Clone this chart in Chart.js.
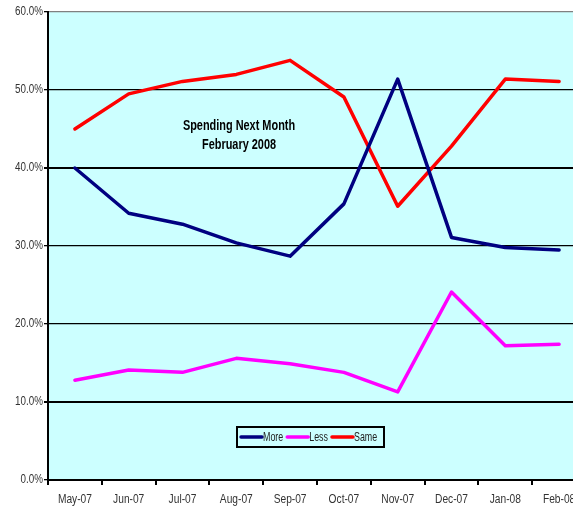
<!DOCTYPE html>
<html>
<head>
<meta charset="utf-8">
<script src="https://cdn.jsdelivr.net/npm/chart.js@4"></script>
<style>
  html, body { margin: 0; padding: 0; background: #fff; overflow: hidden; }
</style>
</head>
<body>
<canvas id="spending-chart" width="590" height="506"></canvas>
<script>
const months = ['May-07', 'Jun-07', 'Jul-07', 'Aug-07', 'Sep-07', 'Oct-07', 'Nov-07', 'Dec-07', 'Jan-08', 'Feb-08'];
const more = [40.0, 34.2, 32.8, 30.4, 28.7, 35.4, 51.4, 31.1, 29.8, 29.5];
const less = [12.8, 14.1, 13.8, 15.6, 14.9, 13.8, 11.3, 24.1, 17.2, 17.4];
const same = [45.0, 49.5, 51.1, 52.0, 53.8, 49.1, 35.1, 42.8, 51.4, 51.1];
const titleLines = ['Spending Next Month', 'February 2008'];

const FONT = '"Liberation Sans", Arial, sans-serif';

// text squeezed horizontally, to mimic the narrow font of the original
function narrowText(ctx, text, x, y, sx, align) {
  ctx.save();
  ctx.translate(x, y);
  ctx.scale(sx, 1);
  ctx.textAlign = align;
  ctx.fillText(text, 0, 0);
  ctx.restore();
}

// cyan plot background
const plotBg = {
  id: 'plotBg',
  beforeDraw(chart) {
    const { ctx, chartArea: a } = chart;
    ctx.save();
    ctx.fillStyle = '#CCFFFF';
    ctx.fillRect(a.left, a.top, a.right - a.left, a.bottom - a.top);
    ctx.restore();
  },
};

// axis labels, title and legend
const overlay = {
  id: 'overlay',
  afterDraw(chart) {
    const ctx = chart.ctx;
    const xs = chart.scales.x, ys = chart.scales.y;
    ctx.save();
    ctx.textBaseline = 'middle';

    // y tick labels
    ctx.fillStyle = '#333';
    ctx.font = '12px ' + FONT;
    ys.ticks.forEach(t => {
      narrowText(ctx, t.value.toFixed(1) + '%', ys.right - 5, ys.getPixelForValue(t.value), 0.82, 'right');
    });

    // x tick labels
    ctx.font = '12px ' + FONT;
    xs.ticks.forEach((t, i) => {
      narrowText(ctx, months[t.value], xs.getPixelForTick(i), xs.top + 20, 0.85, 'center');
    });

    // title
    ctx.fillStyle = '#000';
    ctx.font = 'bold 14px ' + FONT;
    narrowText(ctx, titleLines[0], 239, 126, 0.78, 'center');
    narrowText(ctx, titleLines[1], 239, 145, 0.78, 'center');

    // legend
    const bx = 237, by = 427, bw = 147, bh = 20;
    ctx.lineWidth = 2;
    ctx.strokeStyle = '#000';
    ctx.strokeRect(bx, by, bw, bh);
    ctx.font = '12px ' + FONT;
    ctx.fillStyle = '#222';
    let x = bx + 4;
    const cy = by + bh / 2;
    chart.data.datasets.forEach(ds => {
      ctx.strokeStyle = ds.borderColor;
      ctx.lineWidth = 3.5;
      ctx.lineCap = 'round';
      ctx.beginPath();
      ctx.moveTo(x, cy);
      ctx.lineTo(x + 21, cy);
      ctx.stroke();
      narrowText(ctx, ds.label, x + 22, cy + 1, 0.74, 'left');
      x += 22 + ctx.measureText(ds.label).width * 0.74 + 4;
    });
    ctx.restore();
  },
};

const config = {
  type: 'line',
  data: {
    labels: months,
    datasets: [
      { label: 'More', data: more, borderColor: '#000080', backgroundColor: '#000080' },
      { label: 'Less', data: less, borderColor: '#FF00FF', backgroundColor: '#FF00FF' },
      { label: 'Same', data: same, borderColor: '#FF0000', backgroundColor: '#FF0000' },
    ],
  },
  options: {
    responsive: false,
    animation: false,
    layout: { padding: { top: 12, right: 4, left: 0, bottom: 0 } },
    elements: {
      line: { borderWidth: 3.5, tension: 0, borderCapStyle: 'round', borderJoinStyle: 'round' },
      point: { radius: 0 },
    },
    plugins: {
      legend: { display: false },
      title: { display: false },
      tooltip: { enabled: false },
    },
    scales: {
      x: {
        offset: true,
        grid: { offset: true, drawOnChartArea: false, drawTicks: true, tickLength: 5, color: '#000', lineWidth: 2 },
        border: { color: '#000', width: 2 },
        ticks: { display: false, autoSkip: false },
        afterFit: s => { s.height = 26; },
      },
      y: {
        min: 0,
        max: 60,
        ticks: { display: false, stepSize: 10 },
        grid: {
          color: c => (c.tick && c.tick.value === 60 ? '#808080' : '#000'),
          lineWidth: c => (c.tick && (c.tick.value === 40 || c.tick.value === 10) ? 2 : 1.3),
          tickLength: 4,
          tickColor: '#000',
        },
        border: { color: '#000', width: 2 },
        afterFit: s => { s.width = 48; },
      },
    },
  },
  plugins: [plotBg, overlay],
};

const myChart = new Chart(document.getElementById('spending-chart'), config);
</script>
</body>
</html>
